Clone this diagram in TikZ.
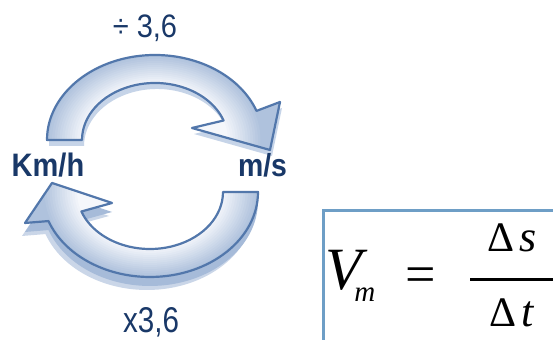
\documentclass[tikz,border=0pt]{standalone}
\usepackage{fontspec}
\setmainfont{Liberation Sans}
\newfontfamily\serifface{Liberation Serif}
\definecolor{navy}{HTML}{193868}
\definecolor{outl}{HTML}{5277AB}
\definecolor{cOuter}{HTML}{AFC2DD}
\definecolor{cInner}{HTML}{F5F7FB}
\definecolor{shad}{HTML}{C6D4E8}
\definecolor{extr}{HTML}{A6BBD9}
\definecolor{boxblue}{HTML}{6E9EC6}
\newcommand\TopPath{(47,200) arc[start angle=180,end angle=20,x radius=108,y radius=85] -- (280,238) -- (270,190) -- (192,212) -- (223.6,219.5) arc[start angle=20,end angle=180,x radius=73,y radius=57] -- cycle}
\newcommand\BotPath{(258,148) arc[start angle=0,end angle=-160,x radius=108,y radius=85] -- (25,117) -- (52,157) -- (112,137) -- (81.4,128.5) arc[start angle=-160,end angle=0,x radius=73,y radius=57] -- cycle}
\tikzset{
  arrowline/.style={draw=outl, line width=1.1pt, line join=round},
  lbl/.style={text=navy, inner sep=0pt, anchor=base, yscale=1.12, transform shape},
  mth/.style={text=black, inner sep=0pt, anchor=base west, font=\serifface},
}
\begin{document}
\begin{tikzpicture}[x=0.5pt,y=0.5pt]
\clip (0,0) rectangle (553,340);
\fill[white] (0,0) rectangle (553,340);
% shadows / extrusion
\fill[shad, shift={(2,-6)}] \TopPath;
\fill[extr!60!white, shift={(-3,-13)}] \BotPath;
\fill[extr, shift={(0,-9)}] \BotPath;
% top arrow gradient
\begin{scope}
  \clip \TopPath;
  \fill[cOuter] (0,0) rectangle (553,340);
  \foreach \i in {1,...,14}{
    \pgfmathsetmacro\rx{108-35*\i/14}
    \pgfmathsetmacro\ry{85-28*\i/14}
    \pgfmathsetmacro\pc{100-100*\i/14}
    \fill[cOuter!\pc!cInner] (155,200) ellipse [x radius=\rx, y radius=\ry];
  }
\end{scope}
\draw[arrowline] \TopPath;
% bottom arrow gradient
\begin{scope}
  \clip \BotPath;
  \fill[cOuter] (0,0) rectangle (553,340);
  \foreach \i in {1,...,14}{
    \pgfmathsetmacro\rx{108-35*\i/14}
    \pgfmathsetmacro\ry{85-28*\i/14}
    \pgfmathsetmacro\pc{100-100*\i/14}
    \fill[cOuter!\pc!cInner] (150,148) ellipse [x radius=\rx, y radius=\ry];
  }
\end{scope}
\draw[arrowline] \BotPath;
% labels
\node[lbl, font=\fontsize{14.5}{17}\selectfont] (div) at (145,302) {÷ 3,6};
\node[lbl, font=\fontsize{14.5}{17}\selectfont\bfseries] (kmh) at (48,163) {Km/h};
\node[lbl, font=\fontsize{14.2}{17}\selectfont\bfseries] (ms) at (262.5,163) {m/s};
\node[lbl, yscale=1.08, font=\fontsize{14.8}{17}\selectfont] (mul) at (151,7) {x3,6};
% formula box
\draw[boxblue, line width=1.5pt] (323.5,-5) -- (323.5,129.5) -- (560,129.5);
\node[mth, font=\serifface\itshape\fontsize{30}{32}\selectfont] (V) at (325,50) {V};
\node[mth, font=\serifface\itshape\fontsize{14.5}{16}\selectfont] (sub) at (354,38) {m};
\node[mth, font=\serifface\fontsize{27}{29}\selectfont] (eq) at (405,47) {=};
\draw[line width=1.4pt] (470,60.5) -- (560,60.5);
\node[mth, font=\serifface\fontsize{21}{23}\selectfont] (d1) at (487,88) {Δ};
\node[mth, font=\serifface\itshape\fontsize{22}{24}\selectfont] (s) at (519,88) {s};
\node[mth, font=\serifface\fontsize{21}{23}\selectfont] (d2) at (489,13) {Δ};
\node[mth, font=\serifface\itshape\fontsize{22}{24}\selectfont] (t) at (521,13) {t};
\end{tikzpicture}
\end{document}
